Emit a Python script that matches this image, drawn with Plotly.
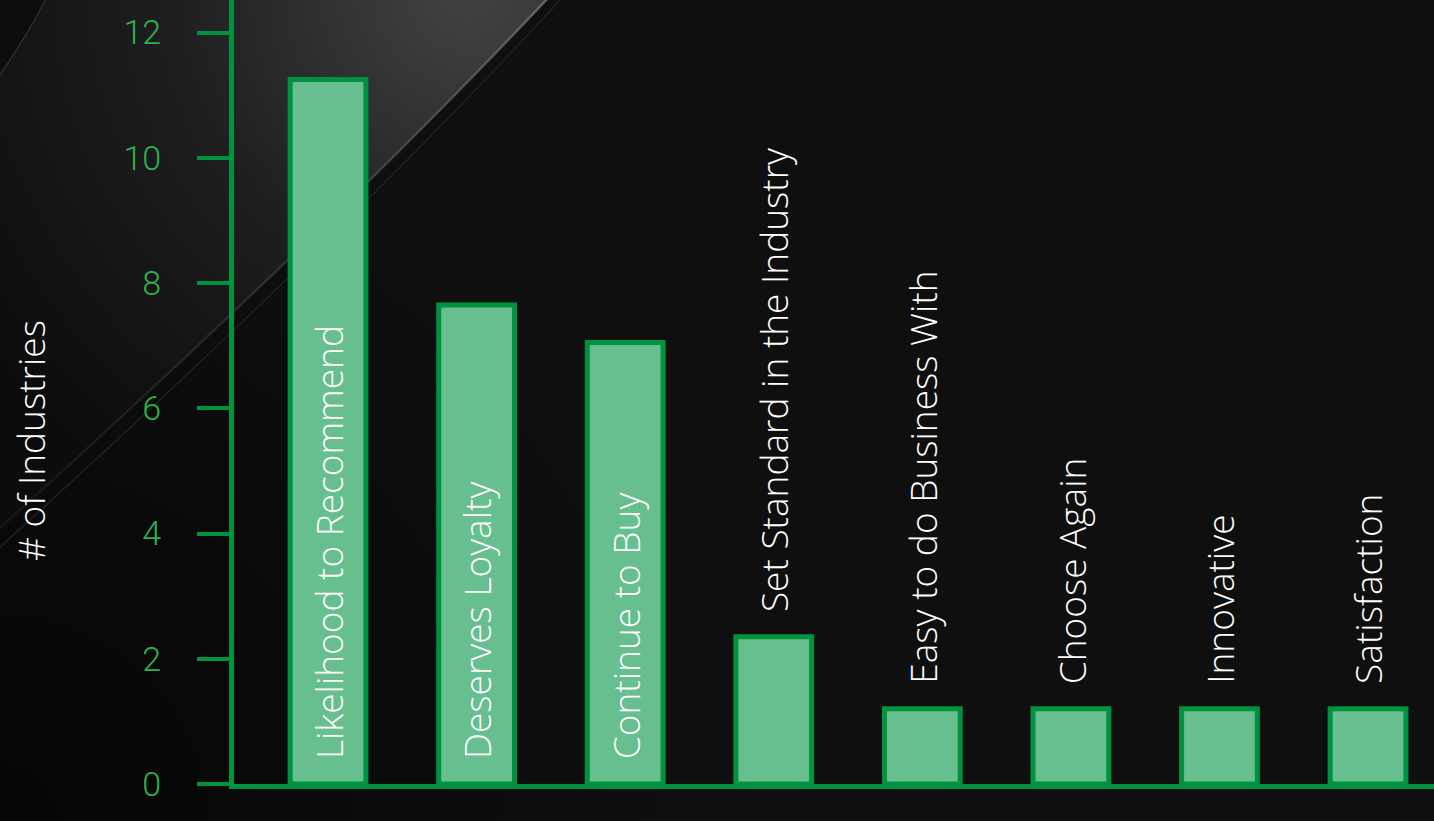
import base64
import plotly.graph_objects as go

categories = ["Likelihood to Recommend", "Deserves Loyalty", "Continue to Buy",
              "Set Standard in the Industry", "Easy to do Business With",
              "Choose Again", "Innovative", "Satisfaction"]
values = [11.25, 7.65, 7.05, 2.35, 1.2, 1.2, 1.2, 1.2]
y_ticks = [0, 2, 4, 6, 8, 10, 12]
y_title = "# of Industries"

W, H = 1434, 821
L, B = 234, 37
PW, PH = W - L, H - B

def px(x, y):
    return (x - L) / PW, (PH - y) / PH

FONT = "Open Sans"
BAR_FILL = "#67be8f"
BAR_LINE = "#00933f"
TICK_TXT = "#2db34a"

# decorative dark background with a soft swoosh (pure graphics, no text)
bg_svg = f"""<svg xmlns='http://www.w3.org/2000/svg' width='{W}' height='{H}' viewBox='0 0 {W} {H}'>
<defs>
<radialGradient id='g1' gradientUnits='userSpaceOnUse' cx='470' cy='-10' r='600'>
<stop offset='0' stop-color='#434346'/>
<stop offset='0.2' stop-color='#343437'/>
<stop offset='0.5' stop-color='#1e1e21'/>
<stop offset='0.8' stop-color='#131315'/>
<stop offset='1' stop-color='#0c0c0d'/>
</radialGradient>
<linearGradient id='g2' gradientUnits='userSpaceOnUse' x1='548' y1='0' x2='0' y2='540'>
<stop offset='0' stop-color='#6a6a70' stop-opacity='0.9'/>
<stop offset='0.45' stop-color='#45454a' stop-opacity='0.6'/>
<stop offset='1' stop-color='#2a2a2e' stop-opacity='0.3'/>
</linearGradient>
<radialGradient id='g3' gradientUnits='userSpaceOnUse' cx='0' cy='821' r='700'>
<stop offset='0' stop-color='#050505'/>
<stop offset='1' stop-color='#0f0f10'/>
</radialGradient>
</defs>
<rect width='{W}' height='{H}' fill='url(#g3)'/>
<path d='M -5 -5 L 548 -2 Q 320 240 -30 555 Z' fill='url(#g1)'/>
<path d='M -5 -5 L 48 -5 Q 25 40 -5 82 Z' fill='#0b0b0c' opacity='0.8'/>
<path d='M 48 -5 Q 25 40 -5 82' fill='none' stroke='#2c2c30' stroke-width='1.5'/>
<path d='M 548 -2 Q 320 240 -30 555' fill='none' stroke='url(#g2)' stroke-width='2.5'/>
<path d='M 562 -2 Q 334 246 -20 565' fill='none' stroke='#2a2a2e' stroke-width='1.5' opacity='0.7'/>
</svg>"""
bg_uri = "data:image/svg+xml;base64," + base64.b64encode(bg_svg.encode()).decode()

fig = go.Figure()
fig.add_trace(go.Bar(
    x=categories, y=values, width=0.51,
    marker=dict(color=BAR_FILL, line=dict(color=BAR_LINE, width=5)),
    hoverinfo="skip",
))

x0, y0 = px(0, 0)
images = [dict(source=bg_uri, xref="paper", yref="paper", x=x0, y=y0,
               sizex=W / PW, sizey=H / PH, xanchor="left", yanchor="top",
               sizing="stretch", layer="below")]

annotations = []
for c, v in zip(categories, values):
    inside = v >= 5
    annotations.append(dict(
        x=c, y=0 if inside else v, xref="x", yref="y",
        text=c, textangle=-90, showarrow=False,
        xanchor="center", yanchor="bottom", yshift=23,
        font=dict(family=FONT, size=37, color="white", weight=300),
    ))
tx, ty = px(30, 440)
annotations.append(dict(x=tx, y=ty, xref="paper", yref="paper", text=y_title,
                        textangle=-90, showarrow=False, xanchor="center", yanchor="middle",
                        font=dict(family=FONT, size=37, color="white", weight=300)))

fig.update_layout(
    width=W, height=H,
    margin=dict(l=L, r=0, t=0, b=B, pad=0),
    paper_bgcolor="#0d0d0e", plot_bgcolor="rgba(0,0,0,0)",
    showlegend=False,
    images=images, annotations=annotations,
    xaxis=dict(range=[-0.633, 7.444], showticklabels=False, ticks="", showgrid=False,
               zeroline=False, showline=True, linecolor=BAR_LINE, linewidth=5),
    yaxis=dict(range=[0, 12.52], tickvals=y_ticks, ticks="outside", ticklen=32,
               tickwidth=4, tickcolor=BAR_LINE, showgrid=False, zeroline=False,
               showline=True, linecolor=BAR_LINE, linewidth=5,
               tickfont=dict(family="Roboto", size=34, color=TICK_TXT, weight=300),
               ticklabelstandoff=29),
)

fig.write_html("out.html")
